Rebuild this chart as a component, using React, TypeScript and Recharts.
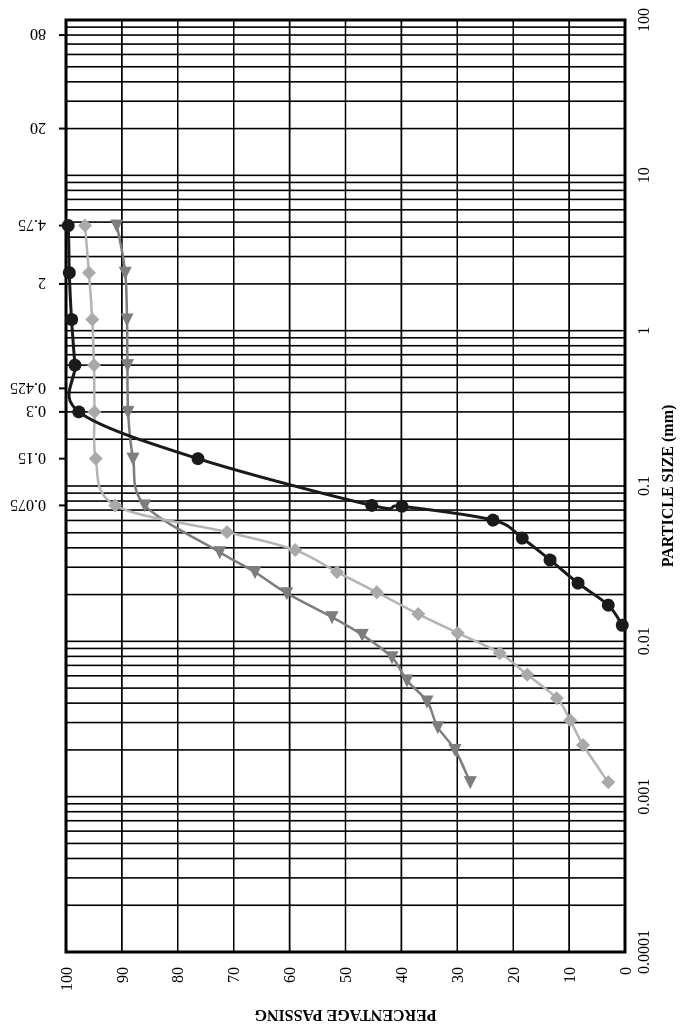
import React from 'react';
import { ScatterChart, Scatter, XAxis, YAxis, CartesianGrid, ReferenceArea } from 'recharts';

const SERIF = "'Liberation Serif', 'Times New Roman', serif";
// chart is laid out landscape and turned a quarter turn on the page
const W = 1026;
const H = 681;

// grain size distribution: particle size (mm) vs percentage passing
const soilASize = [4.75, 2.36, 1.18, 0.6, 0.3, 0.15, 0.075, 0.074, 0.0603, 0.0462, 0.0334, 0.0237, 0.0171, 0.0127];
const soilAPass = [99.6, 99.4, 99.0, 98.4, 97.7, 76.4, 45.3, 39.9, 23.6, 18.4, 13.4, 8.4, 3.0, 0.5];

const soilBSize = [4.75, 2.36, 1.18, 0.6, 0.3, 0.15, 0.075, 0.0505, 0.0387, 0.0279, 0.0207, 0.015, 0.0113, 0.0084, 0.0061, 0.0043, 0.0031, 0.00215, 0.00124];
const soilBPass = [96.6, 95.9, 95.3, 95.0, 94.9, 94.7, 91.2, 71.2, 59.0, 51.5, 44.4, 37.0, 29.9, 22.4, 17.5, 12.2, 9.8, 7.5, 3.0];

const soilCSize = [4.75, 2.36, 1.18, 0.6, 0.3, 0.15, 0.075, 0.0375, 0.0279, 0.0204, 0.0143, 0.011, 0.0079, 0.0056, 0.0041, 0.0028, 0.002, 0.00124];
const soilCPass = [90.9, 89.4, 89.1, 89.0, 88.9, 88.0, 85.9, 72.5, 66.2, 60.5, 52.4, 47.0, 41.7, 39.0, 35.4, 33.5, 30.4, 27.7];

const sieveTicks = [80, 20, 4.75, 2, 0.425, 0.3, 0.15, 0.075];
const decadeTicks = [0.0001, 0.001, 0.01, 0.1, 1, 10, 100];
const passTicks = [0, 10, 20, 30, 40, 50, 60, 70, 80, 90, 100];

// log paper lines: 1..9 in every decade
const gridTicks: number[] = [];
decadeTicks.slice(0, -1).forEach((d) => {
  for (let m = 1; m < 10; m++) gridTicks.push(d * m);
});
gridTicks.push(100);

const toPoints = (size: number[], pass: number[]) => size.map((s, i) => ({ size: s, pass: pass[i] }));

// Excel-like smoothed line (Catmull-Rom through the points)
const smoothCurve = (context: any) => {
  let pts: [number, number][] = [];
  return {
    areaStart() {},
    areaEnd() {},
    lineStart() {
      pts = [];
    },
    lineEnd() {
      if (!pts.length) return;
      context.moveTo(pts[0][0], pts[0][1]);
      for (let i = 0; i < pts.length - 1; i++) {
        const p0 = pts[Math.max(i - 1, 0)];
        const p1 = pts[i];
        const p2 = pts[i + 1];
        const p3 = pts[Math.min(i + 2, pts.length - 1)];
        context.bezierCurveTo(
          p1[0] + (p2[0] - p0[0]) / 6,
          p1[1] + (p2[1] - p0[1]) / 6,
          p2[0] - (p3[0] - p1[0]) / 6,
          p2[1] - (p3[1] - p1[1]) / 6,
          p2[0],
          p2[1]
        );
      }
    },
    point(x: number, y: number) {
      pts.push([x, y]);
    },
  };
};

const isDecade = (v: number) => Math.abs(Math.log10(v) - Math.round(Math.log10(v))) < 1e-9;

const DecadeTick = (props: any) => {
  const { x, y, payload } = props;
  if (!isDecade(payload.value)) return <g />;
  return (
    <text x={x} y={y} textAnchor="middle" dy="0.35em" fontSize={16} fontFamily={SERIF} fill="#000">
      {String(payload.value)}
    </text>
  );
};

const SieveTick = (props: any) => {
  const { x, y, payload } = props;
  return (
    <text x={x} y={y} transform={`rotate(-90, ${x}, ${y})`} textAnchor="start" dy="0.35em" fontSize={16} fontFamily={SERIF} fill="#000">
      {String(payload.value)}
    </text>
  );
};

const Dot = (props: any) => <circle cx={props.cx} cy={props.cy} r={6.5} fill="#1a1a1a" />;

const Diamond = (props: any) => {
  const { cx, cy } = props;
  return <polygon points={`${cx - 7},${cy} ${cx},${cy - 7} ${cx + 7},${cy} ${cx},${cy + 7}`} fill="#a9a9a9" />;
};

const Triangle = (props: any) => {
  const { cx, cy } = props;
  return <polygon points={`${cx - 7},${cy} ${cx + 6},${cy - 6.5} ${cx + 6},${cy + 6.5}`} fill="#7d7d7d" />;
};

export default function App() {
  return (
    <div
      style={{
        position: 'fixed',
        left: 0,
        top: 0,
        width: W,
        height: H,
        background: '#fff',
        transformOrigin: '0 0',
        transform: `translate(0px, ${W}px) rotate(-90deg)`,
      }}
    >
      <ScatterChart width={W} height={H} margin={{ top: 0, right: 20, bottom: 0, left: 0 }}>
        <CartesianGrid stroke="#000" strokeWidth={1.6} />
        <XAxis
          type="number"
          dataKey="size"
          scale="log"
          domain={[0.0001, 100]}
          allowDataOverflow
          ticks={gridTicks}
          interval={0}
          height={56}
          tickSize={0}
          tickMargin={18}
          axisLine={false}
          tickLine={false}
          tick={<DecadeTick />}
          label={(p: any) => {
            const vb = p.viewBox;
            return (
              <text x={vb.x + vb.width / 2} y={vb.y + 42} textAnchor="middle" dy="0.35em" fontSize={16} fontWeight="bold" fontFamily={SERIF} fill="#000">
                PARTICLE SIZE (mm)
              </text>
            );
          }}
        />
        <XAxis
          xAxisId="sieve"
          orientation="top"
          type="number"
          dataKey="size"
          scale="log"
          domain={[0.0001, 100]}
          allowDataOverflow
          ticks={sieveTicks}
          interval={0}
          height={66}
          tickSize={7}
          tickMargin={13}
          axisLine={false}
          tickLine={{ stroke: '#000', strokeWidth: 2 }}
          tick={<SieveTick />}
        />
        <YAxis
          type="number"
          dataKey="pass"
          domain={[0, 100]}
          ticks={passTicks}
          interval={0}
          width={74}
          tickSize={0}
          tickMargin={15}
          axisLine={false}
          tickLine={false}
          tick={{ fill: '#000', fontSize: 16, fontFamily: SERIF }}
          label={(p: any) => {
            const vb = p.viewBox;
            const cx = vb.x + 10;
            const cy = vb.y + vb.height / 2;
            return (
              <text x={cx} y={cy} transform={`rotate(-90, ${cx}, ${cy})`} textAnchor="middle" dy="0.35em" fontSize={16} fontWeight="bold" fontFamily={SERIF} fill="#000">
                PERCENTAGE PASSING
              </text>
            );
          }}
        />
        <ReferenceArea x1={0.0001} x2={100} y1={0} y2={100} fill="none" stroke="#000" strokeWidth={3} ifOverflow="visible" />
        <Scatter
          data={toPoints(soilCSize, soilCPass)}
          line={{ stroke: '#7d7d7d', strokeWidth: 2.5 }}
          lineJointType={smoothCurve as any}
          shape={Triangle}
          isAnimationActive={false}
        />
        <Scatter
          data={toPoints(soilBSize, soilBPass)}
          line={{ stroke: '#b4b4b4', strokeWidth: 2.5 }}
          lineJointType={smoothCurve as any}
          shape={Diamond}
          isAnimationActive={false}
        />
        <Scatter
          data={toPoints(soilASize, soilAPass)}
          line={{ stroke: '#1a1a1a', strokeWidth: 3 }}
          lineJointType={smoothCurve as any}
          shape={Dot}
          isAnimationActive={false}
        />
      </ScatterChart>
    </div>
  );
}
